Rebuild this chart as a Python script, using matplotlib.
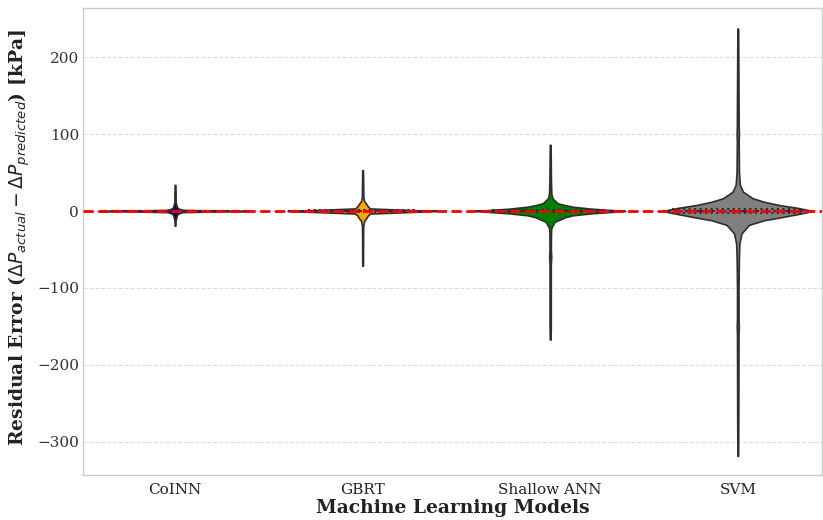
import numpy as np
import matplotlib
matplotlib.use("Agg")
import matplotlib.pyplot as plt

# ---------------- data ----------------
models = ["CoINN", "GBRT", "Shallow ANN", "SVM"]
colors = ["navy", "orange", "green", "gray"]

# residual (kPa) grid points and relative density
coinn_res = [-19, -12, -5, -3, -1.5, -0.7, 0, 0.7, 1.5, 3, 5, 12, 20, 34]
coinn_den = [0.005, 0.008, 0.025, 0.05, 0.1, 0.5, 1.0, 0.5, 0.1, 0.05, 0.025, 0.008, 0.008, 0.005]

gbrt_res = [-71, -40, -20, -13, -9, -6, -3.3, -1.8, 0, 1.8, 3.3, 6, 9, 13, 18, 30, 53]
gbrt_den = [0.005, 0.006, 0.008, 0.02, 0.05, 0.07, 0.1, 0.5, 1.0, 0.5, 0.1, 0.07, 0.05, 0.02, 0.01, 0.008, 0.005]

ann_res = [-167, -150, -100, -70, -60, -50, -30, -22, -14, -8, -5.6, -3, 0, 3, 5.6, 8, 10, 16.5, 23, 40, 60, 86]
ann_den = [0.005, 0.008, 0.008, 0.008, 0.014, 0.009, 0.01, 0.015, 0.06, 0.2, 0.3, 0.55, 1.0, 0.55, 0.3, 0.18, 0.1, 0.03, 0.015, 0.01, 0.008, 0.005]

svm_res = [-318, -250, -160, -150, -140, -100, -60, -42, -29, -18, -12, -9.5, -4, 0,
           4, 7.8, 12, 16.5, 25, 34, 50, 90, 100, 110, 150, 237]
svm_den = [0.005, 0.008, 0.01, 0.014, 0.01, 0.01, 0.015, 0.022, 0.05, 0.15, 0.35, 0.5, 0.8, 1.0,
           0.8, 0.55, 0.35, 0.2, 0.07, 0.028, 0.016, 0.012, 0.015, 0.012, 0.01, 0.005]

# quartiles (Q1, median, Q3)
quartiles = [(-0.3, 0.0, 0.3), (-1.0, 0.0, 1.0), (-1.5, 0.0, 1.5), (-2.5, 0.0, 2.5)]

profiles = [(coinn_res, coinn_den), (gbrt_res, gbrt_den),
            (ann_res, ann_den), (svm_res, svm_den)]

yticks = [-300, -200, -100, 0, 100, 200]

# ---------------- plot ----------------
plt.rcParams["font.family"] = ["DejaVu Serif"]
plt.rcParams["mathtext.fontset"] = "dejavusans"

fig = plt.figure(figsize=(8.23, 5.2), dpi=100)
ax = fig.add_axes([0.101, 0.0865, 0.898, 0.8985])

width = 0.8
positions = np.arange(len(models))
vpstats = []
for (r, d), q in zip(profiles, quartiles):
    r = np.asarray(r, float)
    d = np.asarray(d, float)
    vpstats.append(dict(coords=r, vals=d, mean=q[1], median=q[1],
                        min=r.min(), max=r.max(), quantiles=[]))

parts = ax.violin(vpstats, positions=positions, widths=width,
                  showmeans=False, showextrema=False, showmedians=False)
for body, c in zip(parts["bodies"], colors):
    body.set_facecolor(c)
    body.set_edgecolor("#2e2e2e")
    body.set_linewidth(1.2)
    body.set_alpha(1)
    body.set_zorder(2)

# quartile lines
for pos, (r, d), q in zip(positions, profiles, quartiles):
    dmax = max(d)
    for k, val in enumerate(q):
        hw = np.interp(val, r, d) / dmax * width / 2
        ls = "--" if k == 1 else ":"
        ax.plot([pos - hw, pos + hw], [val, val], color="#2e2e2e",
                lw=1.5, ls=ls, zorder=3)

ax.axhline(0, color="red", ls="--", lw=2, zorder=4)

ax.set_xlim(-0.49, len(models) - 0.55)
ax.set_ylim(-343, 264)
ax.set_xticks(positions)
ax.set_xticklabels(models, fontsize=11, color="#222222")
ax.set_yticks(yticks)
ax.set_yticklabels([("\u2212" + str(-t)) if t < 0 else str(t) for t in yticks],
                   fontsize=11, color="#333333")
ax.tick_params(axis="y", length=0, pad=3)
ax.tick_params(axis="x", length=0, pad=6)
ax.yaxis.grid(True, color="#dddddd", ls="--", lw=0.8)
ax.set_axisbelow(True)
for s in ax.spines.values():
    s.set_color("#cccccc")
    s.set_linewidth(1.0)

ax.set_xlabel("Machine Learning Models", fontsize=13.5, fontweight="bold",
              color="#222222", labelpad=1)
ax.set_ylabel(r"Residual Error ($\Delta P_{actual} - \Delta P_{predicted}$) [kPa]",
              fontsize=13.5, fontweight="bold", color="#222222")
ax.yaxis.set_label_coords(-0.069, 0.509)

fig.savefig("out.png", dpi=100)
